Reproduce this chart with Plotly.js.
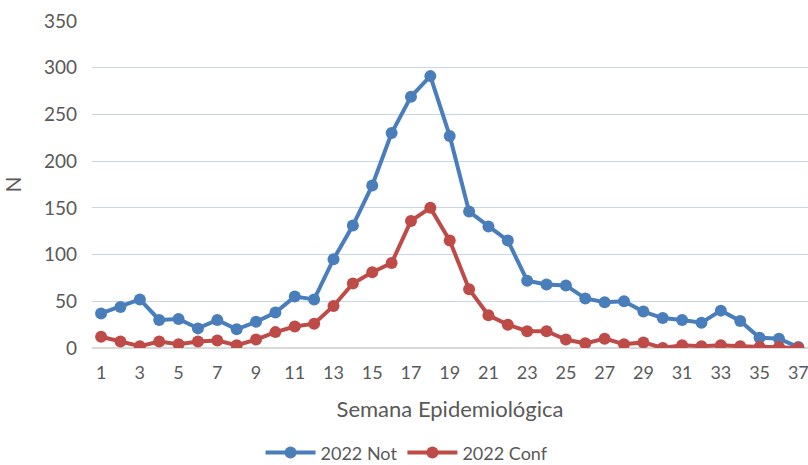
<!DOCTYPE html>
<html><head><meta charset="utf-8">
<script src="https://cdn.plot.ly/plotly-3.0.1.min.js"></script>
<style>html,body{margin:0;padding:0;background:#fff}#c{width:808px;height:465px}</style>
</head><body><div id="c"></div>
<script>
const semanas = Array.from({length:37},(_,i)=>i+1);
const not2022 = [37,44,52,30,31,21,30,20,28,38,55,52,95,131,174,230,269,291,227,146,130,115,72,68,67,53,49,50,39,32,30,27,40,29,11,10,1];
const conf2022 = [12,7,2,7,4,7,8,3,9,17,23,26,45,69,81,91,136,150,115,63,35,25,18,18,9,5,10,4,6,0,3,2,3,2,1,1,0];
const nomes = ["2022 Not","2022 Conf"];
const cores = ["#4A7EBB","#BE4B48"];
const tr = [not2022, conf2022].map((v,i)=>({
  x: semanas, y: v, name: nomes[i], type:'scatter', mode:'lines+markers',
  line:{color:cores[i], width:4}, marker:{color:cores[i], size:12}
}));
const f = "Lato, 'Open Sans', sans-serif";
Plotly.newPlot('c', tr, {
  width:808, height:465,
  margin:{l:92, r:0, t:21, b:117},
  paper_bgcolor:'#fff', plot_bgcolor:'#fff',
  font:{family:f, color:'#595959', size:18},
  xaxis:{range:[0.53,37.5], tickmode:'linear', tick0:1, dtick:2, showgrid:false, zeroline:false, automargin:false,
    showline:false, ticks:'', tickfont:{size:18}, ticklabelstandoff:12, ticklabeloverflow:'allow',
    title:{text:'Semana Epidemiológica', font:{size:22}, standoff:19}},
  yaxis:{range:[0,350], dtick:50, gridcolor:'#C8D6EA', gridwidth:1, zeroline:true, zerolinecolor:'#D9D9D9', zerolinewidth:2, automargin:false,
    ticks:'', tickfont:{size:19}, ticklabelstandoff:14,
    title:{text:'N', font:{size:21}, standoff:18}},
  showlegend:true,
  legend:{orientation:'h', x:0.44, xanchor:'center', yref:'container', y:0.026, yanchor:'middle', font:{size:18}, itemwidth:50, traceorder:'normal'}
}, {displayModeBar:false});
</script></body></html>
